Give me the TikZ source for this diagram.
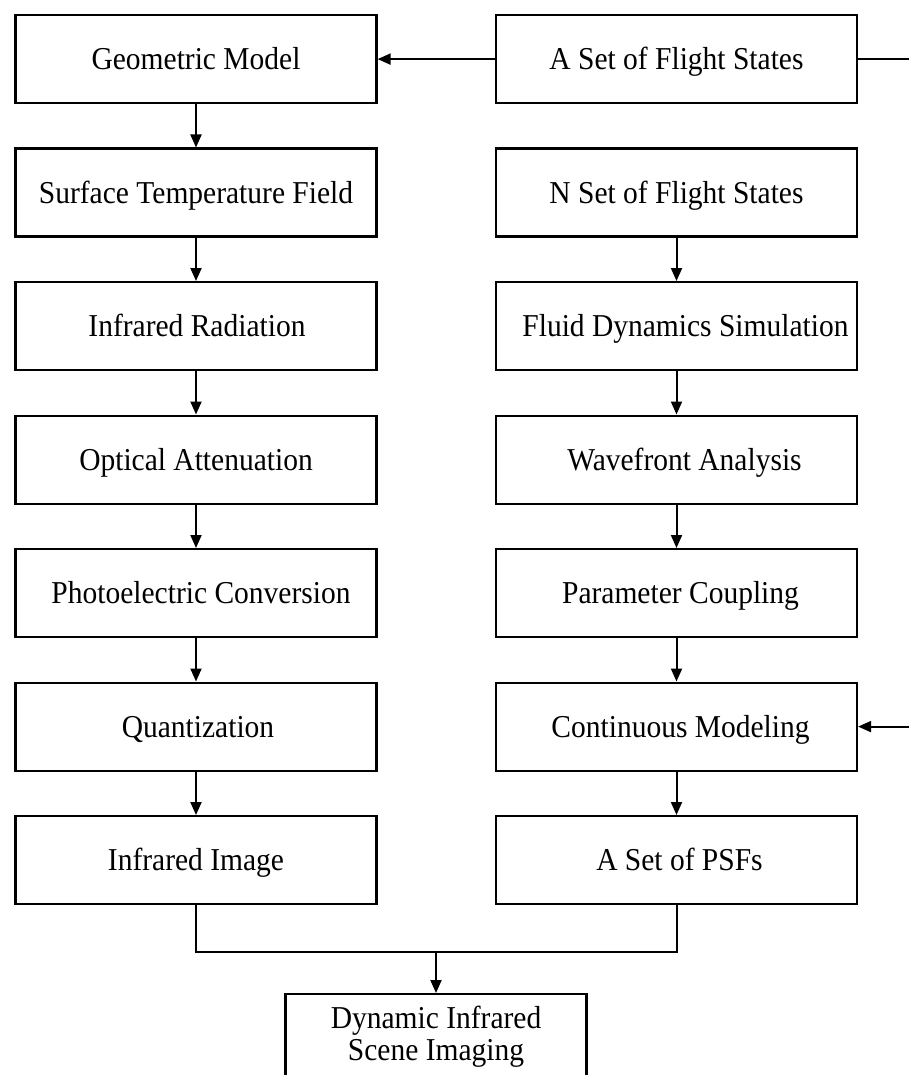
\documentclass[tikz,border=0pt]{standalone}
\usepackage{fontspec}
\usepackage{graphicx}
\setmainfont{Liberation Serif}
\usetikzlibrary{arrows.meta}
\newcommand\tall[1]{\scalebox{1}[1.08]{#1}}
\begin{document}
\begin{tikzpicture}[x=1pt,y=-1pt,
  box/.style={draw,line width=2.2pt,minimum width=361pt,minimum height=88pt,inner sep=0pt,
    text height=21pt,text depth=0pt,
    font=\fontsize{29.5}{34}\selectfont,anchor=north},
  conn/.style={line width=2pt,-{Triangle[length=13pt,width=11pt]}},
  plain/.style={line width=2pt},
  txt/.style={font=\fontsize{29.5}{34}\selectfont,inner sep=0pt,anchor=base}]
\useasboundingbox (0,0) rectangle (908,1075);
\foreach \n/\t/\s [count=\i from 0] in {g1/Geometric Model/0,g2/Surface Temperature Field/0,g3/Infrared Radiation/2,g4/Optical Attenuation/0,g5/Photoelectric Conversion/10,g6/Quantization/4,g7/Infrared Image/0}
  \node[box] (\n) at (196,14+133.5*\i) {\hspace*{\s pt}\tall{\t}};
\foreach \n/\t/\s [count=\i from 0] in {r1/A Set of Flight States/0,r2/N Set of Flight States/0,r3/Fluid Dynamics Simulation/18,r4/Wavefront Analysis/16,r5/Parameter Coupling/8,r6/Continuous Modeling/8,r7/A Set of PSFs/6}
  \node[box] (\n) at (676.5,14+133.5*\i) {\hspace*{\s pt}\tall{\t}};
\node[box,minimum width=301pt,minimum height=100pt,text height=0pt] (dyn) at (436,993) {};
\node[txt] (dyn1) at (436,1028) {\tall{Dynamic Infrared}};
\node[txt] (dyn2) at (436,1060) {\tall{Scene Imaging}};
\foreach \a/\b in {g1/g2,g2/g3,g3/g4,g4/g5,g5/g6,g6/g7,r2/r3,r3/r4,r4/r5,r5/r6,r6/r7}
  \draw[conn] (\a.south) -- (\b.north);
\draw[conn] (r1.west) -- (g1.east);
\coordinate (c2) at ([xshift=63pt]r6.east);
\coordinate (c1) at (r1.east -| c2);
\draw[conn] (r1.east) -- (c1) -- (c2) -- (r6.east);
\coordinate (jl) at (196,952);
\coordinate (jr) at (676.5,952);
\coordinate (jm) at (436,952);
\draw[plain] (g7.south) -- (jl) -- (jr) -- (r7.south);
\draw[conn] (jm) -- (dyn.north);
\end{tikzpicture}
\end{document}
